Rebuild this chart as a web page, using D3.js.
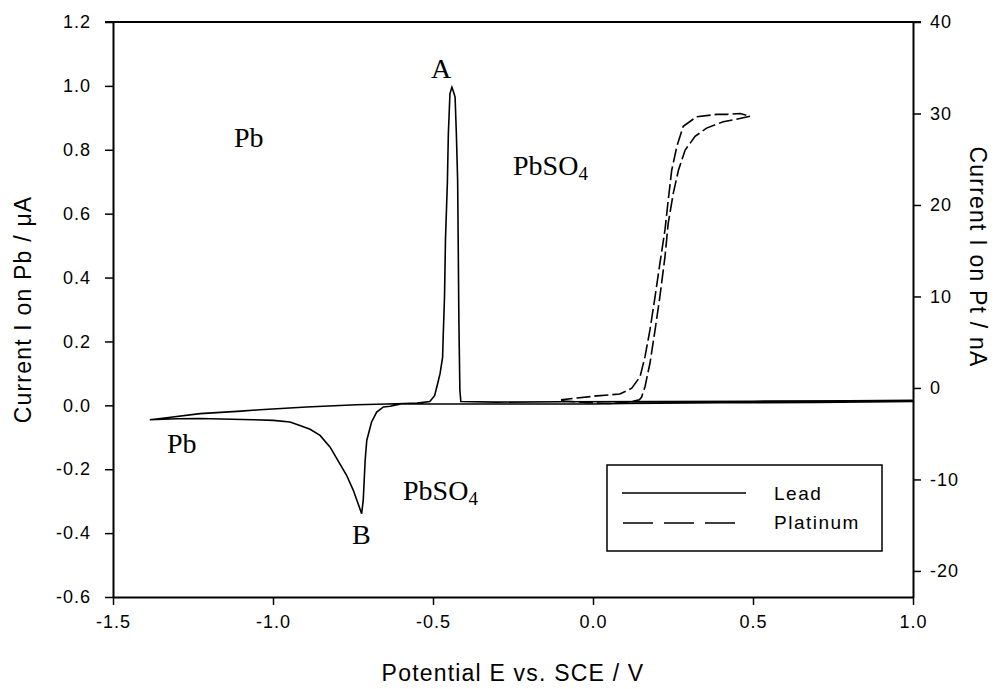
<!DOCTYPE html>
<html>
<head>
<meta charset="utf-8">
<script src="https://cdn.jsdelivr.net/npm/d3@7"></script>
<style>
  html, body { margin: 0; padding: 0; background: #fff; }
  svg { display: block; }
  .tick text { font-family: "Liberation Sans", Arial, sans-serif; font-size: 18px; fill: #000; letter-spacing: 1px; }
  .title { font-family: "Liberation Sans", Arial, sans-serif; font-size: 23px; fill: #000; letter-spacing: 1.2px; }
  .anno { font-family: "Liberation Serif", "Times New Roman", serif; font-size: 28px; fill: #000; }
  .leg { font-family: "Liberation Sans", Arial, sans-serif; font-size: 19px; fill: #000; letter-spacing: 1.5px; }
</style>
</head>
<body>
<svg id="chart" width="997" height="689"></svg>
<script>
// ---------- data ----------
// Lead electrode (left axis, µA), in scan order
const leadE = [-1.385,-1.332,-1.228,-1.10,-1.041,-0.895,-0.739,-0.613,-0.55,-0.51,-0.495,-0.485,-0.478,-0.470,-0.468,-0.464,-0.461,-0.455,-0.452,-0.447,-0.441,-0.437,-0.431,-0.427,-0.423,-0.419,-0.416,-0.413,-0.3,-0.1,0.2,0.5,0.8,1.0,
  1.0,0.7,0.4,0.1,0.0,-0.2,-0.45,-0.60,-0.634,-0.655,-0.676,-0.692,-0.707,-0.712,-0.718,-0.723,-0.749,-0.770,-0.791,-0.822,-0.853,-0.884,-0.916,-0.947,-0.999,-1.061,-1.228,-1.30,-1.385];
const leadI = [-0.045,-0.039,-0.026,-0.018,-0.014,-0.005,0.002,0.005,0.007,0.012,0.03,0.07,0.099,0.15,0.22,0.34,0.52,0.70,0.851,0.976,0.996,0.985,0.965,0.85,0.704,0.257,0.047,0.012,0.010,0.011,0.012,0.013,0.014,0.016,
  0.012,0.009,0.008,0.006,0.004,0.004,0.004,0.004,-0.003,-0.005,-0.021,-0.052,-0.110,-0.172,-0.297,-0.339,-0.266,-0.219,-0.183,-0.130,-0.094,-0.075,-0.063,-0.052,-0.047,-0.045,-0.041,-0.042,-0.045];

// Platinum electrode (right axis, nA), in scan order
const ptE = [-0.10,-0.02,0.06,0.12,0.145,0.152,0.1625,0.178,0.194,0.209,0.225,0.235,0.251,0.267,0.288,0.319,0.355,0.407,0.438,0.491,
  0.46,0.418,0.386,0.324,0.282,0.262,0.246,0.235,0.225,0.209,0.194,0.178,0.1625,0.147,0.121,0.084,0.012,-0.05,-0.10];
const ptI = [-1.4,-1.6,-1.7,-1.5,-1.3,-1.0,0.14,2.70,6.34,9.98,14.35,18.0,21.3,23.8,26.0,27.5,28.4,29.1,29.3,29.7,
  30.0,29.9,29.9,29.65,28.6,26.4,23.8,20.5,17.3,13.6,9.98,6.34,3.42,1.23,-0.03,-0.66,-0.87,-1.1,-1.3];

const xTicks = [-1.5,-1.0,-0.5,0.0,0.5,1.0];
const yLeftTicks = [-0.6,-0.4,-0.2,0.0,0.2,0.4,0.6,0.8,1.0,1.2];
const yRightTicks = [-20,-10,0,10,20,30,40];

const xTitle = "Potential E vs. SCE / V";
const yLeftTitle = "Current I on Pb / \u03BCA";
const yRightTitle = "Current I on Pt / nA";
const seriesNames = ["Lead", "Platinum"];

// ---------- layout ----------
const L = 113, R = 913, T = 22, B = 597;
const svg = d3.select("#chart");

const x = d3.scaleLinear().domain([-1.5, 1.0]).range([L, R]);
const yL = d3.scaleLinear().domain([-0.6, 1.2]).range([B, T]);
const yR = d3.scaleLinear().domain([-22.85, 40]).range([B, T]);

// axes
const fmt1 = d => d3.format(".1f")(d).replace("\u2212", "-");
const gx = svg.append("g").attr("transform", `translate(0,${B})`)
  .call(d3.axisBottom(x).tickValues(xTicks).tickFormat(fmt1).tickSize(8).tickSizeOuter(0).tickPadding(10));
const gl = svg.append("g").attr("transform", `translate(${L},0)`)
  .call(d3.axisLeft(yL).tickValues(yLeftTicks).tickFormat(fmt1).tickSize(8).tickSizeOuter(0).tickPadding(14));
const gr = svg.append("g").attr("transform", `translate(${R},0)`)
  .call(d3.axisRight(yR).tickValues(yRightTicks).tickFormat(d => String(d)).tickSize(8).tickSizeOuter(0).tickPadding(9));
[gx, gl, gr].forEach(g => {
  g.selectAll(".domain").attr("stroke", "#000").attr("stroke-width", 2);
  g.selectAll(".tick line").attr("stroke", "#000").attr("stroke-width", 1.5);
});
// top frame line
svg.append("line").attr("x1", L - 8).attr("x2", R + 8).attr("y1", T).attr("y2", T)
  .attr("stroke", "#000").attr("stroke-width", 2);

// titles
svg.append("text").attr("class", "title").attr("x", (L + R) / 2).attr("y", 681)
  .attr("text-anchor", "middle").text(xTitle);
svg.append("text").attr("class", "title").attr("text-anchor", "middle")
  .attr("transform", `translate(31,${(T + B) / 2}) rotate(-90)`).text(yLeftTitle);
svg.append("text").attr("class", "title").attr("text-anchor", "middle")
  .attr("transform", `translate(970,257) rotate(90)`).text(yRightTitle);

// lines
const leadData = leadE.map((e, i) => [e, leadI[i]]);
const ptData = ptE.map((e, i) => [e, ptI[i]]);
svg.append("path").datum(leadData)
  .attr("d", d3.line().x(d => x(d[0])).y(d => yL(d[1])))
  .attr("fill", "none").attr("stroke", "#000").attr("stroke-width", 1.6);
svg.append("path").datum(ptData)
  .attr("d", d3.line().x(d => x(d[0])).y(d => yR(d[1])))
  .attr("fill", "none").attr("stroke", "#000").attr("stroke-width", 1.6).attr("stroke-dasharray", "14,4");

// annotations
function anno(tx, ty, main, sub) {
  const t = svg.append("text").attr("class", "anno").attr("x", tx).attr("y", ty);
  t.append("tspan").text(main);
  if (sub) t.append("tspan").attr("font-size", "19px").attr("dy", 5).text(sub);
}
anno(431, 78, "A");
anno(234, 147, "Pb");
anno(513, 175, "PbSO", "4");
anno(167, 453, "Pb");
anno(403, 500, "PbSO", "4");
anno(352, 544, "B");

// legend
const lg = svg.append("g");
lg.append("rect").attr("x", 607).attr("y", 465).attr("width", 275).attr("height", 86)
  .attr("fill", "#fff").attr("stroke", "#000").attr("stroke-width", 1.5);
lg.append("line").attr("x1", 622).attr("x2", 746).attr("y1", 493).attr("y2", 493)
  .attr("stroke", "#000").attr("stroke-width", 1.6);
lg.append("line").attr("x1", 623).attr("x2", 735).attr("y1", 523).attr("y2", 523)
  .attr("stroke", "#000").attr("stroke-width", 1.6).attr("stroke-dasharray", "30,11");
lg.append("text").attr("class", "leg").attr("x", 774).attr("y", 500).text(seriesNames[0]);
lg.append("text").attr("class", "leg").attr("x", 774).attr("y", 529).text(seriesNames[1]);
</script>
</body>
</html>
